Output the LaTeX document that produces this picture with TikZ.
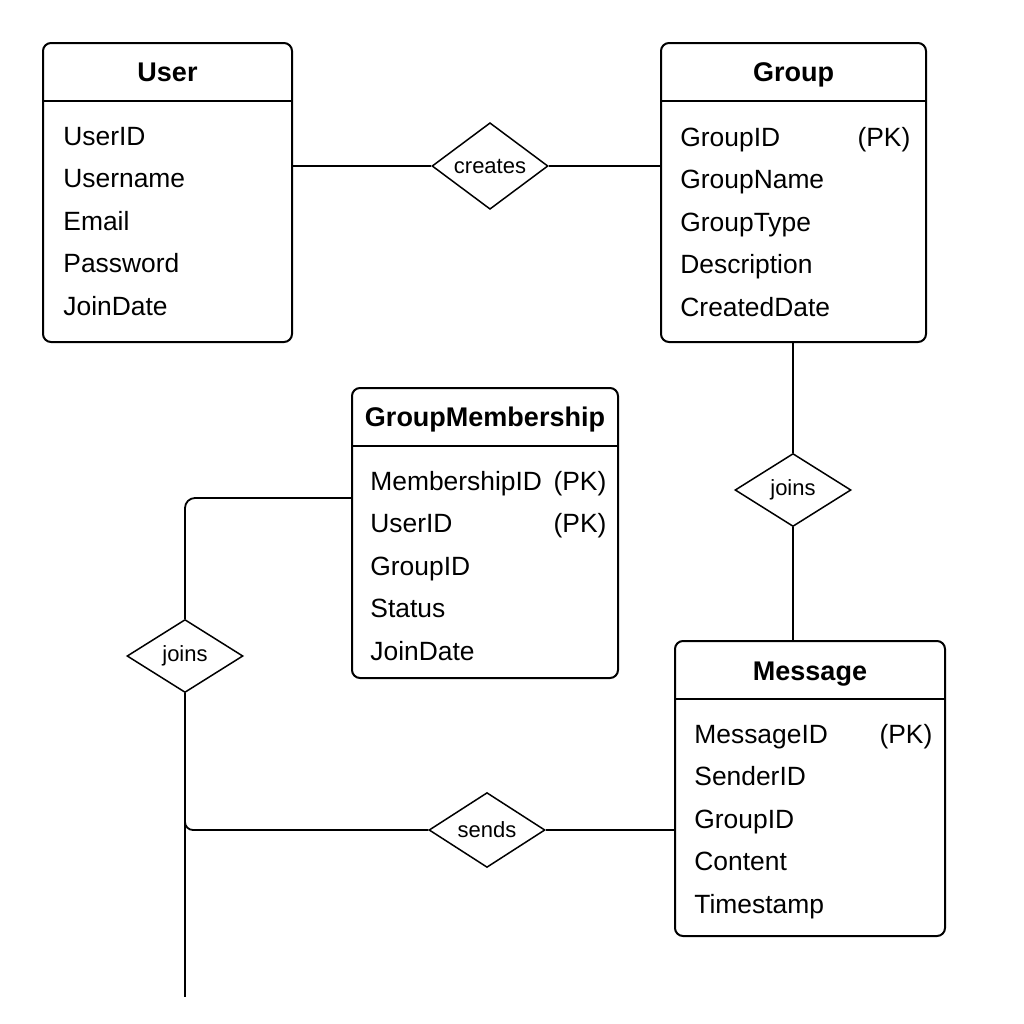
\documentclass[tikz,border=0pt]{standalone}
\usepackage{fontspec}
\setmainfont{Liberation Sans}
\usepackage{tikz}
\usetikzlibrary{positioning,calc,shapes.geometric}

\begin{document}
\begin{tikzpicture}[
        x=0.5pt,y=-0.5pt,
        font=\fontsize{13.2pt}{21.25pt}\selectfont,
        entity/.style={rectangle,rounded corners=4pt,draw=black,line width=1pt,inner sep=0pt},
        title/.style={anchor=base,inner sep=0pt,font=\fontsize{13.5pt}{16pt}\selectfont\bfseries},
        attrs/.style={anchor=base west,inner sep=0pt,align=left},
        relation/.style={diamond,draw=black,line width=0.75pt,minimum width=58pt,minimum height=36.5pt,inner sep=0pt,font=\fontsize{11pt}{13pt}\selectfont},
        link/.style={line width=0.9pt,black}
    ]
        \useasboundingbox (0,0) rectangle (1024,1024);

        \node[entity,minimum width=124.5pt,minimum height=149.5pt] (user) at (167.5,192.5) {};
        \node[entity,minimum width=132.5pt,minimum height=149.5pt] (group) at (793.5,192.5) {};
        \node[entity,minimum width=133pt,minimum height=145pt] (member) at (485,533) {};
        \node[entity,minimum width=135pt,minimum height=147.5pt] (message) at (810,788.5) {};

        \draw[line width=0.8pt] ([yshift=-29.5pt]user.north west) -- ([yshift=-29.5pt]user.north east);
        \draw[line width=0.8pt] ([yshift=-29.5pt]group.north west) -- ([yshift=-29.5pt]group.north east);
        \draw[line width=0.8pt] ([yshift=-29.5pt]member.north west) -- ([yshift=-29.5pt]member.north east);
        \draw[line width=0.8pt] ([yshift=-29.5pt]message.north west) -- ([yshift=-29.5pt]message.north east);

        \node[title] (usertitle) at ([yshift=-19.5pt]user.north) {User};
        \node[title] (grouptitle) at ([yshift=-19.5pt]group.north) {Group};
        \node[title] (membertitle) at ([yshift=-19.5pt]member.north) {GroupMembership};
        \node[title] (messagetitle) at ([yshift=-20pt]message.north) {Message};

        \node[attrs] (userattrs) at ([xshift=10.5pt,yshift=-51.5pt]user.north west) {\begin{tabular}[t]{@{}l@{}}UserID\\Username\\Email\\Password\\JoinDate\end{tabular}};
        \node[attrs] (groupattrs) at ([xshift=10pt,yshift=-52pt]group.north west) {\begin{tabular*}{115pt}[t]{@{}l@{\extracolsep{\fill}}r@{}}GroupID & (PK)\\GroupName & \\GroupType & \\Description & \\CreatedDate & \end{tabular*}};
        \node[attrs] (memberattrs) at ([xshift=9.5pt,yshift=-51.5pt]member.north west) {\begin{tabular*}{118pt}[t]{@{}l@{\extracolsep{\fill}}r@{}}MembershipID & (PK)\\UserID & (PK)\\GroupID & \\Status & \\JoinDate & \end{tabular*}};
        \node[attrs] (messageattrs) at ([xshift=10pt,yshift=-51.5pt]message.north west) {\begin{tabular*}{119pt}[t]{@{}l@{\extracolsep{\fill}}r@{}}MessageID & (PK)\\SenderID & \\GroupID & \\Content & \\Timestamp & \end{tabular*}};

        \node[relation] (creates) at (490,166) {creates};
        \node[relation] (joinsgroup) at (793,490) {joins};
        \node[relation] (joinsuser) at (185,656) {joins};
        \node[relation] (sends) at (487,830) {sends};
        \coordinate (tail) at (185,997);

        \draw[link] (user.east |- creates.west) -- (creates.west);
        \draw[link] (creates.east) -- (creates.east -| group.west);
        \draw[link] (joinsgroup.north |- group.south) -- (joinsgroup.north);
        \draw[link] (joinsgroup.south) -- (joinsgroup.south |- message.north);
        \draw[link,rounded corners=5pt] ([yshift=17.5pt]member.west) -| (joinsuser.north);
        \draw[link] (joinsuser.south) -- (tail);
        \draw[link,rounded corners=4pt] ($(joinsuser.south |- sends.west)+(0,-12)$) |- (sends.west);
        \draw[link] (sends.east) -- (sends.east -| message.west);
    \end{tikzpicture}
\end{document}
